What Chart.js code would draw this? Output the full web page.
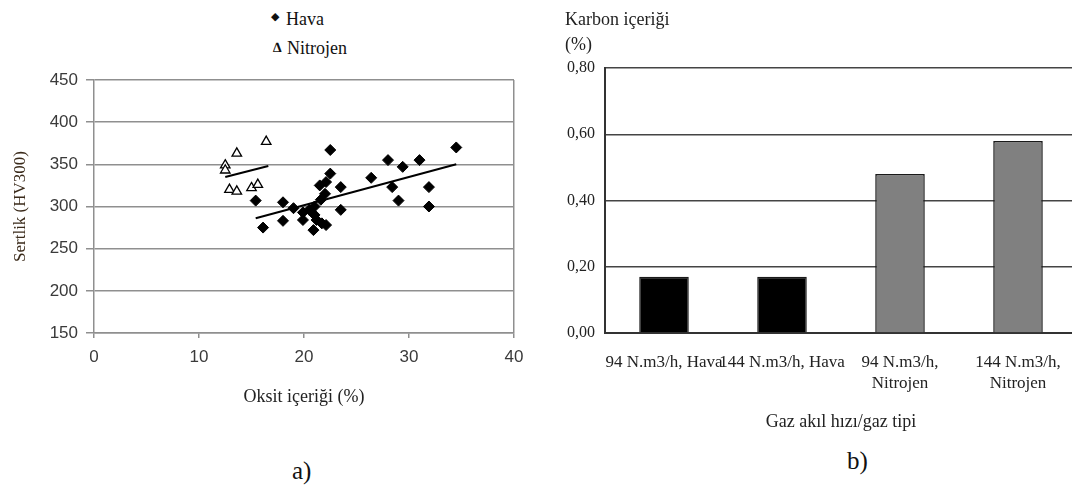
<!DOCTYPE html>
<html>
<head>
<meta charset="utf-8">
<script src="https://cdn.jsdelivr.net/npm/chart.js@4.4.1/dist/chart.umd.min.js"></script>
<style>
    html, body { margin: 0; padding: 0; background: #fff; overflow: hidden; width: 1072px; height: 493px; }
    canvas { position: absolute; }
    .lbl { position: absolute; font-family: 'Liberation Serif', serif; color: #111; white-space: nowrap; line-height: 20px; }
</style>
</head>
<body>
<div class="lbl" style="left:271px; top:7px; font-size:11px; font-family:'DejaVu Sans';">◆</div>
<div class="lbl" style="left:286px; top:9px; font-size:18px;">Hava</div>
<div class="lbl" style="left:273px; top:38px; font-size:14px; font-weight:bold;">∆</div>
<div class="lbl" style="left:287px; top:38px; font-size:18px;">Nitrojen</div>
<div class="lbl" style="left:292px; top:458px; font-size:25px; line-height:26px;">a)</div>
<div class="lbl" style="left:847px; top:448px; font-size:25px; line-height:26px;">b)</div>

<canvas id="scatter-chart" width="540" height="360" style="left:0; top:60px;"></canvas>
<canvas id="bar-chart" width="540" height="440" style="left:550px; top:0;"></canvas>

<script>
// a) hardness vs oxide content
const havaX = [22.5, 34.5, 28.0, 31.0, 29.4, 22.5, 26.4, 22.1, 21.5, 23.5, 28.4, 31.9, 22.0, 15.4, 18.0, 29.0,
    19.0, 21.0, 23.5, 31.9, 19.9, 21.0, 19.9, 21.2, 18.0, 21.7, 22.1, 16.1, 20.9, 21.6, 20.5];
const havaY = [367, 370, 355, 355, 347, 339, 334, 329, 325, 323, 323, 323, 315, 307, 305, 307,
    298, 300, 296, 300, 293, 290, 284, 284, 283, 280, 278, 275, 272, 308, 296];
const nitrojenX = [16.4, 13.6, 12.5, 12.5, 12.9, 13.6, 15.0, 15.6];
const nitrojenY = [377, 363, 349, 343, 320, 318, 322, 326];
const havaTrendX = [15.4, 34.5];
const havaTrendY = [286, 350];
const nitrojenTrendX = [12.5, 16.6];
const nitrojenTrendY = [335, 348];

// b) carbon content per gas flow / gas type
const gasLabels = [
    ['94 N.m3/h, Hava'],
    ['144 N.m3/h, Hava'],
    ['94 N.m3/h,', 'Nitrojen'],
    ['144 N.m3/h,', 'Nitrojen'],
];
const carbonValues = [0.17, 0.17, 0.48, 0.58];
const barColors = ['#000000', '#000000', '#808080', '#808080'];

const toPoints = (xs, ys) => xs.map((x, i) => ({ x: x, y: ys[i] }));

const gridGrey = '#8f8f8f';
const serif = "'Liberation Serif', 'Times New Roman', serif";
const sansTick = { family: "'Liberation Sans', Arial, sans-serif", size: 17 };

const scatterChart = new Chart(document.getElementById('scatter-chart'), {
    type: 'scatter',
    data: {
        datasets: [{
            label: 'Hava',
            data: toPoints(havaX, havaY),
            pointStyle: 'rectRot',
            pointRadius: 5.5,
            backgroundColor: '#000',
            borderColor: '#000',
            borderWidth: 1,
        }, {
            label: 'Nitrojen',
            data: toPoints(nitrojenX, nitrojenY),
            pointStyle: 'triangle',
            pointRadius: 5.5,
            backgroundColor: '#fff',
            borderColor: '#000',
            borderWidth: 1.3,
        }, {
            type: 'line',
            data: toPoints(havaTrendX, havaTrendY),
            borderColor: '#000',
            borderWidth: 2,
            pointRadius: 0,
        }, {
            type: 'line',
            data: toPoints(nitrojenTrendX, nitrojenTrendY),
            borderColor: '#000',
            borderWidth: 2,
            pointRadius: 0,
        }]
    },
    options: {
        responsive: false,
        animation: false,
        layout: { padding: { top: 20, right: 26, left: 0, bottom: 0 } },
        plugins: {
            legend: { display: false },
            tooltip: { enabled: false }
        },
        scales: {
            x: {
                type: 'linear',
                min: 0,
                max: 40,
                ticks: { stepSize: 10, font: sansTick, color: '#3a3a3a', padding: 9 },
                grid: {
                    color: (ctx) => (ctx.tick && ctx.tick.value === 40 ? gridGrey : 'rgba(0,0,0,0)'),
                    tickColor: gridGrey,
                    tickLength: 5,
                    lineWidth: 1.5,
                },
                border: { color: gridGrey, width: 1.5 },
                title: { display: true, text: 'Oksit içeriği (%)', font: { family: serif, size: 18 }, color: '#222', padding: { top: 0, bottom: 12 } },
                afterFit: (scale) => { scale.height = 87; }
            },
            y: {
                min: 150,
                max: 450,
                ticks: { stepSize: 50, font: sansTick, color: '#3a3a3a', padding: 8 },
                grid: { color: gridGrey, tickLength: 8, lineWidth: 1.5 },
                border: { color: gridGrey, width: 1.5 },
                title: { display: true, text: 'Sertlik (HV300)', font: { family: serif, size: 17 }, color: '#3a2a1a', padding: { top: 10, bottom: 0 } },
                afterFit: (scale) => { scale.width = 94; }
            }
        }
    }
})

const barChart = new Chart(document.getElementById('bar-chart'), {
    type: 'bar',
    data: {
        labels: gasLabels,
        datasets: [{
            data: carbonValues,
            backgroundColor: barColors,
            borderColor: '#1a1a1a',
            borderWidth: 1.5,
            barPercentage: 0.42,
            categoryPercentage: 1,
        }]
    },
    options: {
        responsive: false,
        animation: false,
        layout: { padding: { top: 0, right: 13, left: 15, bottom: 0 } },
        plugins: {
            legend: { display: false },
            tooltip: { enabled: false },
            title: {
                display: true,
                text: ['Karbon içeriği', '(%)'],
                align: 'start',
                color: '#222',
                font: { family: serif, size: 18, weight: 'normal', lineHeight: 1.39 },
                padding: { top: 7.5, bottom: 10.5 }
            }
        },
        scales: {
            x: {
                ticks: {
                    font: { family: serif, size: 17, lineHeight: 1.24 },
                    color: '#222',
                    padding: 18.5,
                    autoSkip: false,
                    maxRotation: 0,
                    minRotation: 0,
                },
                grid: { display: false, drawTicks: false },
                border: { color: '#333', width: 2 },
                title: { display: true, text: 'Gaz akıl hızı/gaz tipi', font: { family: serif, size: 18 }, color: '#222', padding: { top: 0, bottom: 7 } },
                afterFit: (scale) => { scale.height = 107; }
            },
            y: {
                min: 0,
                max: 0.8,
                ticks: {
                    stepSize: 0.2,
                    font: { family: serif, size: 16 },
                    color: '#222',
                    padding: 10,
                    callback: (value) => value.toFixed(2).replace('.', ',')
                },
                grid: { color: '#444', lineWidth: 1.5, drawTicks: false },
                border: { color: '#333', width: 2 },
                afterFit: (scale) => { scale.width = 40; }
            }
        }
    }
})
</script>
</body>
</html>
